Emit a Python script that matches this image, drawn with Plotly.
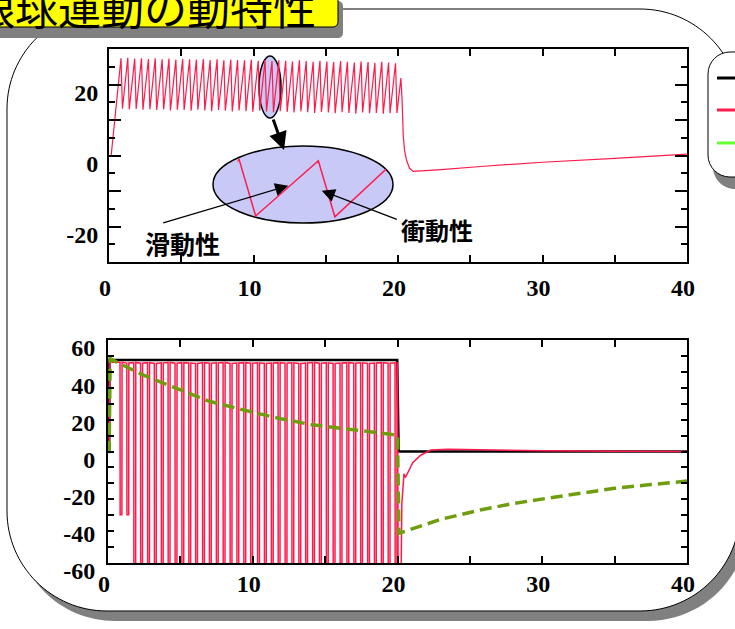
import plotly.graph_objects as go

W, H = 735, 629


def px(x):
    return x / W


def py(y):
    return 1 - y / H


# ---------------- data ----------------
# saccade onset times (s) during the 0-20 s stimulation
saccade_t = [0.83, 1.30, 1.78, 2.25, 2.73, 3.20, 3.68, 4.15, 4.63, 5.10,
             5.58, 6.05, 6.53, 7.00, 7.48, 7.95, 8.43, 8.90, 9.38, 9.85,
             10.33, 10.80, 11.28, 11.75, 12.23, 12.70, 13.18, 13.65, 14.13, 14.60,
             15.08, 15.55, 16.03, 16.50, 16.98, 17.45, 17.93, 18.40, 18.88, 19.35,
             19.83]
saccade_dur = 0.1

# eye position (deg): value just before each saccade, and just after it
pos_peak = [27.4, 27.5, 27.3, 27.4, 27.2, 27.4, 27.1, 27.3, 27.0, 27.2,
            27.1, 27.0, 27.2, 26.9, 27.1, 26.8, 27.0, 26.9, 26.8, 27.0,
            26.7, 26.9, 26.6, 26.8, 26.7, 26.5, 26.8, 26.6, 26.4, 26.7,
            26.5, 26.3, 26.6, 26.4, 26.2, 26.5, 26.3, 26.1, 26.4, 26.2,
            26.0]
pos_trough = [13.2, 13.0, 13.1, 12.9, 13.0, 12.8, 13.0, 12.7, 12.9, 12.8,
              12.6, 12.9, 12.7, 12.5, 12.8, 12.6, 12.4, 12.7, 12.5, 12.3,
              12.6, 12.4, 12.2, 12.5, 12.3, 12.1, 12.4, 12.2, 12.0, 12.3,
              12.1, 11.9, 12.2, 12.0, 11.8, 12.1, 11.9, 12.0, 11.8, 11.9,
              12.0]
pos_start_t = [0.0, 0.15]
pos_start_v = [0.0, 0.0]
# after-nystagmus once the stimulus stops
pos_after_t = [20.2, 20.28, 20.36, 20.45, 20.6, 20.8, 21.05, 21.6, 23.0, 25.7, 30.0, 35.0, 40.0]
pos_after_v = [21.8, 16.0, 6.0, 1.5, -1.5, -3.6, -4.5, -4.4, -4.0, -3.1, -1.9, -0.8, 0.4]

# eye velocity (deg/s): slow-phase level per cycle and saccade minimum
vel_plateau = [48.0, 47.6, 47.9, 47.5, 47.8, 47.4, 47.7, 47.9, 47.5, 47.8,
               47.6, 47.4, 47.8, 47.5, 47.7, 47.9, 47.4, 47.6, 47.8, 47.5,
               47.7, 47.4, 47.6, 47.8, 47.5, 47.7, 47.4, 47.6, 47.9, 47.5,
               47.7, 47.4, 47.6, 47.8, 47.5, 47.7, 47.4, 47.6, 47.8, 47.5,
               47.7]
vel_min = [-34, -34, -90, -90, -90, -90, -90, -90, -90, -90,
           -90, -90, -90, -90, -90, -90, -90, -90, -90, -90,
           -90, -90, -90, -90, -90, -90, -90, -90, -90, -90,
           -90, -90, -90, -90, -90, -90, -90, -90, -90, -90,
           -90]
vel_start_t = [0.0, 0.08, 0.13, 0.25]
vel_start_v = [0.0, 0.0, 49.8, 48.0]
vel_after_t = [20.0, 20.05, 20.22, 20.3, 20.45, 20.55, 21.05, 21.6, 22.3, 23.5, 26.0, 30.0, 35.0, 40.0]
vel_after_v = [47.6, -90, -90, -28, -12, -14, -6, -2, 0.8, 1.2, 0.8, 0.4, 0.1, 0.0]

# stimulus velocity (deg/s)
stim_t = [0.0, 0.08, 0.1, 19.98, 20.08, 40.0]
stim_v = [0.0, 0.0, 49.2, 49.2, 0.0, 0.0]

# velocity-storage state (deg/s)
store_t = [0.0, 0.08, 0.15, 0.5, 2.4, 4.75, 7.0, 9.4, 11.7, 14.0, 16.3, 18.5, 20.0,
           20.1, 21.1, 23.0, 25.7, 28.0, 30.3, 32.5, 35.0, 37.5, 40.0]
store_v = [0.0, 0.0, 50.0, 48.5, 41.2, 34.0, 27.0, 22.3, 18.0, 14.5, 12.3, 10.5, 8.8,
           -44.0, -41.3, -36.5, -31.5, -28.0, -25.2, -22.5, -19.8, -17.8, -15.9]

x_ticks = [0, 5, 10, 15, 20, 25, 30, 35, 40]
x_text = ["0", "", "10", "", "20", "", "30", "", "40"]
pos_ticks = [-30, -20, -10, 0, 10, 20, 30]
pos_text = ["", "-20", "", "0", "", "20", ""]
vel_ticks = [-60, -40, -20, 0, 20, 40, 60]
vel_text = ["-60", "-40", "-20", "0", "20", "40", "60"]

# ---------------- assemble traces ----------------
pos_t = list(pos_start_t)
pos_v = list(pos_start_v)
for s, hi, lo in zip(saccade_t, pos_peak, pos_trough):
    pos_t += [s, s + saccade_dur]
    pos_v += [hi, lo]
pos_t += pos_after_t
pos_v += pos_after_v

vel_t = list(vel_start_t)
vel_v = list(vel_start_v)
for s, lvl, lo in zip(saccade_t, vel_plateau, vel_min):
    vel_t += [s, s + 0.01, s + 0.13, s + 0.14]
    vel_v += [lvl, lo, lo, lvl]
vel_t += vel_after_t
vel_v += vel_after_v

RED = "#ff1a4b"
BLACK = "#000000"
GREEN = "#6e9e0e"

fig = go.Figure()
fig.add_trace(go.Scatter(x=pos_t, y=pos_v, mode="lines", xaxis="x", yaxis="y",
                         line=dict(color=RED, width=1.2), showlegend=False))
# magnified view of two nystagmus cycles
fig.add_trace(go.Scatter(x=pos_t, y=pos_v, mode="lines", xaxis="x3", yaxis="y3",
                         line=dict(color=RED, width=1.5), showlegend=False))
fig.add_trace(go.Scatter(x=stim_t, y=stim_v, mode="lines", xaxis="x2", yaxis="y2",
                         line=dict(color=BLACK, width=2.5), showlegend=False))
fig.add_trace(go.Scatter(x=vel_t, y=vel_v, mode="lines", xaxis="x2", yaxis="y2",
                         line=dict(color=RED, width=1.5), showlegend=False))
fig.add_trace(go.Scatter(x=store_t, y=store_v, mode="lines", xaxis="x2", yaxis="y2",
                         line=dict(color=GREEN, width=3.5, dash="12px,6px"), showlegend=False))

# ---------------- shapes ----------------
def rrect(x0, y0, x1, y1, r):
    k = 0.5523 * r
    pts = [
        ("M", [(x0 + r, y0)]),
        ("L", [(x1 - r, y0)]),
        ("C", [(x1 - r + k, y0), (x1, y0 + r - k), (x1, y0 + r)]),
        ("L", [(x1, y1 - r)]),
        ("C", [(x1, y1 - r + k), (x1 - r + k, y1), (x1 - r, y1)]),
        ("L", [(x0 + r, y1)]),
        ("C", [(x0 + r - k, y1), (x0, y1 - r + k), (x0, y1 - r)]),
        ("L", [(x0, y0 + r)]),
        ("C", [(x0, y0 + r - k), (x0 + r - k, y0), (x0 + r, y0)]),
    ]
    out = []
    for cmd, ps in pts:
        out.append(cmd + " ".join(f"{px(a):.5f},{py(b):.5f}" for a, b in ps))
    return " ".join(out) + " Z"


GRAY = "#808080"
LAV = "#c9c9f7"
shapes = [
    dict(type="path", path=rrect(15, 19, 748, 621, 100), fillcolor=GRAY,
         line=dict(width=0), xref="paper", yref="paper", layer="below"),
    dict(type="path", path=rrect(7, 9, 740, 611, 100), fillcolor="white",
         line=dict(color="black", width=1), xref="paper", yref="paper", layer="below"),
    dict(type="circle", x0=px(259), x1=px(281), y0=py(56), y1=py(118), fillcolor=LAV,
         line=dict(color="black", width=1.5), xref="paper", yref="paper", layer="below"),
    dict(type="circle", x0=px(213), x1=px(393), y0=py(146), y1=py(223), fillcolor=LAV,
         line=dict(color="black", width=1.5), xref="paper", yref="paper", layer="below"),
    dict(type="path", path=rrect(713, 64, 790, 189, 22), fillcolor=GRAY,
         line=dict(width=0), xref="paper", yref="paper", layer="above"),
    dict(type="path", path=rrect(708, 52, 785, 177, 22), fillcolor="white",
         line=dict(color="black", width=1), xref="paper", yref="paper", layer="above"),
    dict(type="line", x0=px(717), x1=px(740), y0=py(78), y1=py(78),
         line=dict(color=BLACK, width=3), xref="paper", yref="paper", layer="above"),
    dict(type="line", x0=px(717), x1=px(740), y0=py(110), y1=py(110),
         line=dict(color=RED, width=3), xref="paper", yref="paper", layer="above"),
    dict(type="line", x0=px(717), x1=px(740), y0=py(143), y1=py(143),
         line=dict(color="#66ff33", width=3), xref="paper", yref="paper", layer="above"),
    dict(type="path", path=rrect(-5, 1, 343, 38, 5), fillcolor=GRAY,
         line=dict(width=0), xref="paper", yref="paper", layer="above"),
    dict(type="path", path=rrect(-10, -10, 338, 27, 5), fillcolor="#ffff00",
         line=dict(color="black", width=1), xref="paper", yref="paper", layer="above"),
]

JP = "Noto Sans CJK JP"
annotations = [
    dict(text="眼球運動の動特性", x=px(144), y=py(6), xref="paper", yref="paper",
         showarrow=False, font=dict(family=JP, size=43, color="black"),
         xanchor="center", yanchor="middle"),
    dict(text="<b>滑動性</b>", x=px(182.5), y=py(242.5), xref="paper", yref="paper",
         showarrow=False, font=dict(family=JP, size=25, color="black"),
         xanchor="center", yanchor="middle"),
    dict(text="<b>衝動性</b>", x=px(436.7), y=py(229), xref="paper", yref="paper",
         showarrow=False, font=dict(family=JP, size=24, color="black"),
         xanchor="center", yanchor="middle"),
    dict(text="", x=px(288.3), y=py(185.7), xref="paper", yref="paper", showarrow=True,
         ax=161.7 - 288.3, ay=223.3 - 185.7, arrowhead=2, arrowsize=2.2, arrowwidth=1.2,
         arrowcolor="black", standoff=0),
    dict(text="", x=px(321.7), y=py(190.7), xref="paper", yref="paper", showarrow=True,
         ax=398.3 - 321.7, ay=220 - 190.7, arrowhead=2, arrowsize=2.2, arrowwidth=1.2,
         arrowcolor="black", standoff=0),
    dict(text="", x=px(284), y=py(150), xref="paper", yref="paper", showarrow=True,
         ax=272.7 - 284, ay=118 - 150, arrowhead=2, arrowsize=1.2, arrowwidth=3,
         arrowcolor="black", standoff=0),
]

TICKFONT = dict(family="Liberation Serif, Times New Roman, serif", size=24,
                color="black", weight="bold")
common_x = dict(range=[0, 40], showline=True, linecolor="black", linewidth=2,
                mirror="ticks", ticks="inside", ticklen=7, tickwidth=1.5, tickcolor="black",
                tickmode="array", tickvals=x_ticks, ticktext=x_text, tickfont=TICKFONT,
                showgrid=False, zeroline=False, ticklabelshift=-4, automargin=False)

fig.update_layout(
    width=W, height=H, margin=dict(l=0, r=0, t=0, b=0, pad=0, autoexpand=False),
    paper_bgcolor="white", plot_bgcolor="rgba(0,0,0,0)",
    showlegend=False,
    xaxis=dict(domain=[px(109), px(687)], anchor="y", ticklabelstandoff=3, **common_x),
    yaxis=dict(domain=[py(262), py(49)], anchor="x", range=[-30, 30],
               showline=True, linecolor="black", linewidth=2, mirror="ticks",
               ticks="inside", ticklen=12, tickwidth=1.5, tickcolor="black",
               tickmode="array", tickvals=pos_ticks, ticktext=pos_text, tickfont=TICKFONT,
               minor=dict(ticks="inside", dtick=5, tick0=0, ticklen=6, tickwidth=1.5,
                          tickcolor="black"),
               showgrid=False, zeroline=False, ticklabelshift=8, ticklabelstandoff=4,
               automargin=False),
    xaxis2=dict(domain=[px(108), px(687)], anchor="y2", ticklabelstandoff=-2, **common_x),
    yaxis2=dict(domain=[py(563), py(340)], anchor="x2", range=[-60, 60],
                showline=True, linecolor="black", linewidth=2, mirror="ticks",
                ticks="inside", ticklen=0, tickcolor="black",
                tickmode="array", tickvals=vel_ticks, ticktext=vel_text, tickfont=TICKFONT,
                minor=dict(ticks="inside", dtick=120 / 14, tick0=-60, ticklen=6,
                           tickwidth=1.5, tickcolor="black"),
                showgrid=False, zeroline=False, ticklabelshift=8, ticklabelstandoff=6,
                automargin=False),
    xaxis3=dict(domain=[px(237.5), px(386)], anchor="y3", range=[10.79, 11.69],
                visible=False, automargin=False),
    yaxis3=dict(domain=[py(223), py(146)], anchor="x3", range=[10.6, 30.4],
                visible=False, automargin=False),
    shapes=shapes,
    annotations=annotations,
)

fig.write_html("out.html")
